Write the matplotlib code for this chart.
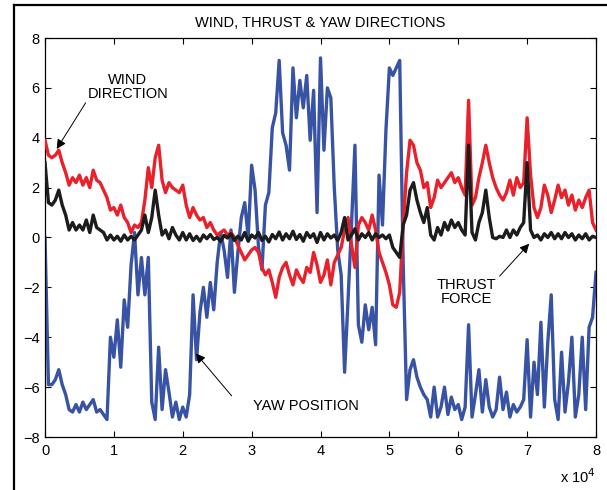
import numpy as np
import matplotlib
matplotlib.use("Agg")
import matplotlib.pyplot as plt
from matplotlib.lines import Line2D

plt.rcParams["font.family"] = ["Liberation Sans", "DejaVu Sans"]

# sample positions, one every 500 samples
t = np.arange(0, 80001, 500)

# wind direction (red)
wind = [
    3.9, 3.3, 3.2, 3.3, 3.5, 3.0, 2.6, 2.1, 2.4, 2.2,
    2.5, 2.1, 2.4, 2.0, 2.7, 2.3, 2.2, 1.9, 1.6, 1.1,
    1.2, 0.9, 1.3, 0.8, 0.6, 0.2, 0.5, 0.4, 0.6, 1.5,
    2.8, 2.0, 3.2, 3.7, 2.3, 1.8, 2.2, 2.0, 1.9, 1.8,
    2.1, 1.3, 0.8, 1.2, 0.9, 0.7, 0.8, 0.4, 0.6, 0.3,
    0.1, 0.2, 0.3, 0.1, 0.2, 0.0, -0.3, -0.6, -0.9, -0.7,
    -0.5, -0.4, -0.6, -1.2, -1.5, -1.3, -1.8, -2.4, -1.6, -1.2,
    -1.0, -1.5, -1.9, -1.3, -1.6, -1.8, -1.2, -1.4, -0.6, -1.1,
    -1.8, -1.5, -0.9, -1.9, -1.0, -0.7, -0.4, 0.3, 0.8, -0.3,
    -1.2, 0.5, 0.8, 0.6, 0.3, 0.9, 0.3, -0.6, -1.0, -1.4,
    -1.9, -2.7, -2.8, -2.2, 0.5, 2.6, 3.9, 3.7, 3.0, 2.7,
    2.0, 2.2, 1.2, 1.6, 2.3, 2.0, 2.2, 2.4, 2.6, 2.2,
    2.4, 2.0, 1.7, 5.5, 1.3, 1.6, 2.4, 3.0, 3.7, 3.0,
    2.4, 2.0, 1.7, 1.5, 1.8, 2.3, 1.7, 2.4, 2.0, 2.2,
    4.8, 2.5, 1.2, 0.8, 1.2, 2.1, 1.7, 1.0, 1.5, 2.1,
    1.6, 1.9, 1.3, 1.7, 1.1, 1.5, 1.2, 1.6, 1.9, 0.6,
    0.3,
]

# thrust force (black)
thrust = [
    3.0, 1.4, 1.3, 1.5, 1.9, 1.3, 0.9, 0.3, 0.6, 0.3,
    0.5, 0.3, 0.7, 0.2, 0.9, 0.4, 0.3, 0.2, -0.1, 0.1,
    -0.1, 0.05, -0.15, 0.1, -0.1, 0.05, -0.1, 0.1, 0.3, 0.9,
    0.2, 0.8, 1.9, 0.9, 0.1, 0.3, -0.05, 0.4, 0.1, -0.1,
    0.2, -0.1, 0.15, -0.12, 0.05, -0.15, 0.1, -0.05, 0.12, -0.08,
    0.0, -0.15, 0.08, -0.02, 0.15, -0.12, 0.05, -0.1, 0.2, -0.15,
    0.1, -0.02, 0.2, -0.12, 0.05, -0.18, 0.12, -0.05, 0.22, -0.1,
    0.15, -0.05, 0.25, -0.08, 0.12, -0.15, 0.2, 0.0, 0.15, -0.2,
    0.2, -0.1, 0.15, -0.02, 0.1, -0.12, 0.2, 0.8, -0.1, 0.1,
    0.35, -0.1, 0.15, 0.0, 0.2, -0.1, 0.15, 0.0, 0.1, -0.05,
    0.1, -0.4, -0.6, -0.8, 0.5, 0.9, 1.9, 2.2, 1.5, 1.0,
    0.6, 1.2, 0.1, -0.1, 0.4, 0.1, 0.6, 0.3, 0.7, 0.4,
    0.6, 0.3, 0.1, 3.7, 0.2, -0.1, 0.6, 1.0, 1.9, 0.8,
    0.0, -0.05, 0.05, 0.0, 0.3, 0.0, 0.3, 0.1, 0.4, 0.6,
    3.0, 0.3, 0.0, 0.1, -0.1, 0.15, 0.0, 0.2, -0.05, 0.15,
    -0.05, 0.2, 0.0, 0.15, -0.1, 0.1, -0.05, 0.15, -0.1, 0.05,
    0.0,
]

# yaw position (blue)
yaw = [
    0.0, -5.9, -5.9, -5.7, -5.3, -5.9, -6.3, -6.9, -7.0, -6.7,
    -7.0, -6.6, -6.9, -6.7, -6.5, -7.0, -6.9, -7.1, -7.3, -4.0,
    -4.8, -3.3, -5.2, -2.5, -3.6, -1.1, 0.2, -2.3, -0.8, -2.3,
    -0.8, -6.6, -7.3, -4.4, -6.9, -5.3, -6.2, -7.2, -6.6, -7.3,
    -6.8, -7.2, -6.3, -2.3, -4.9, -3.0, -2.0, -3.2, -1.8, -2.9,
    -1.0, 0.2, -0.5, -1.6, 0.3, -2.2, -0.6, 0.8, 1.4, 0.0,
    2.9, 1.9, -0.4, -1.3, 1.3, 1.8, 4.4, 5.0, 7.1, 4.2,
    3.7, 2.7, 6.8, 4.8, 6.3, 5.2, 6.5, 3.9, 5.9, 1.0,
    7.2, 3.5, 6.0, 5.6, 2.0, -0.5, -1.5, -5.4, -2.5, 0.5,
    3.7, -3.5, -4.2, -2.7, -3.7, -2.8, -4.3, 2.5, 0.5, 4.3,
    6.8, 6.5, 6.8, 7.1, -1.0, -6.5, -5.3, -4.9, -5.6, -6.0,
    -6.3, -6.5, -7.2, -6.0, -7.2, -6.8, -6.0, -7.1, -6.4, -6.9,
    -6.7, -7.3, -6.8, -3.5, -7.2, -6.3, -5.3, -7.0, -5.7, -6.8,
    -7.2, -6.9, -5.6, -6.9, -6.2, -7.2, -6.7, -7.0, -6.8, -6.5,
    -4.1, -7.2, -5.0, -6.3, -3.4, -6.8, -4.2, -2.3, -6.5, -7.3,
    -4.6, -7.0, -5.8, -4.0, -7.2, -6.3, -4.0, -6.9, -3.6, -3.2,
    -1.4,
]

xtick_pos = np.arange(0, 80001, 10000)
xtick_lab = [str(i) for i in range(9)]
ytick_pos = np.arange(-8, 9, 2)

fig = plt.figure(figsize=(6.07, 4.90), dpi=100)
ax = fig.add_axes([45 / 607, 53 / 490, 551 / 607, 399 / 490])

style = dict(lw=2.4, solid_joinstyle="round")
ax.plot(t, yaw, color="#3853a4", zorder=2, **style)
ax.plot(t, wind, color="#e8212b", zorder=3, **style)
ax.plot(t, thrust, color="#1c1c1c", zorder=4, **style)

ax.set_xlim(0, 80000)
ax.set_ylim(-8, 8)
ax.set_xticks(xtick_pos, labels=xtick_lab)
ax.set_yticks(ytick_pos)
ax.tick_params(direction="in", top=True, right=True, length=4, width=0.8,
               labelsize=10.5)
ax.tick_params(axis="x", pad=5)
ax.tick_params(axis="y", pad=4)
for s in ax.spines.values():
    s.set_linewidth(0.9)

ax.set_title("WIND, THRUST & YAW DIRECTIONS", fontsize=10.5, pad=8)
ax.text(1.0, -0.10, r"x 10$^4$", transform=ax.transAxes, ha="right",
        va="center", fontsize=10.5)

arrow = dict(arrowstyle="-|>", color="black", lw=0.7, mutation_scale=14,
             shrinkA=0, shrinkB=0)
ax.text(12000, 6.05, "WIND\nDIRECTION", ha="center", va="center",
        fontsize=10.5, linespacing=1.0)
ax.annotate("", xy=(1700, 3.55), xytext=(5900, 5.4), arrowprops=arrow)
ax.text(61200, -2.2, "THRUST\nFORCE", ha="center", va="center",
        fontsize=10.5, linespacing=1.0)
ax.annotate("", xy=(70300, -0.25), xytext=(66000, -1.55), arrowprops=arrow)
ax.text(37900, -6.75, "YAW POSITION", ha="center", va="center", fontsize=10.5)
ax.annotate("", xy=(21900, -4.65), xytext=(27100, -6.35), arrowprops=arrow)

# frame lines around the figure panel
fig.add_artist(Line2D([13.5 / 607, 13.5 / 607], [0, 1 - 5 / 490],
                      color="black", lw=1.6))
fig.add_artist(Line2D([13.5 / 607, 1], [1 - 5 / 490, 1 - 5 / 490],
                      color="black", lw=1.6))

fig.savefig("out.png", dpi=100)
